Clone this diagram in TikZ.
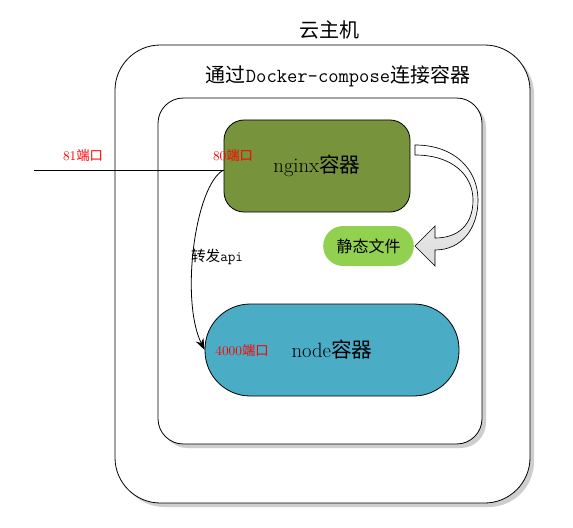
\documentclass[tikz,border=0pt]{standalone}
\usepackage{fontspec}
\newfontfamily\cjk{Noto Sans CJK SC}
\usetikzlibrary{positioning,arrows.meta,shadows,calc}
\definecolor{olivebox}{HTML}{77933C}
\definecolor{tealbox}{HTML}{4BACC6}
\definecolor{limebox}{HTML}{92D050}
\definecolor{portred}{HTML}{FF0000}
\newcommand{\zh}[1]{{\cjk #1}}
\tikzset{
  frame/.style={rectangle, rounded corners=#1, draw=black, fill=white,
                line width=0.6pt,
                drop shadow={shadow xshift=3pt, shadow yshift=-3pt,
                             opacity=0.35, fill=black!55}},
  ctr/.style={rectangle, rounded corners=#1, draw=black, line width=0.6pt,
              font=\fontsize{15.5}{18}\selectfont, inner sep=0pt},
  pill/.style={rectangle, rounded corners=#1, fill=limebox,
               font=\fontsize{12}{14}\selectfont, inner sep=0pt},
  port/.style={font=\fontsize{10}{12}\selectfont, text=portred, inner sep=0pt},
  titletext/.style={font=\fontsize{15}{18}\selectfont, inner sep=0pt},
  lnk/.style={line width=0.6pt, draw=black},
  fwd/.style={-{Stealth[length=3mm,width=2.2mm]}, line width=0.6pt, draw=black},
}

\begin{document}
\begin{tikzpicture}[x=0.75pt, y=-0.75pt]
  \useasboundingbox (0,0) rectangle (573,527);

  % host and compose frames
  \node[frame=34pt, minimum width=311.25pt, minimum height=343.5pt] (host) at (322.5,274) {};
  \node[frame=19pt, minimum width=243pt, minimum height=259.5pt] (compose) at (320,271) {};
  \node[titletext] (hostlbl) at (329,30) {\zh{云主机}};
  \node[titletext] (composelbl) at (338,76) {\zh{通过}\texttt{Docker-compose}\zh{连接容器}};

  % containers
  \node[ctr=15pt, fill=olivebox, minimum width=139.5pt, minimum height=69pt] (nginx) at (317,166) {nginx\zh{容器}};
  \node[ctr=34pt, fill=tealbox, minimum width=190.5pt, minimum height=69pt] (node) at (332,350) {node\zh{容器}};
  \node[pill=15pt, minimum width=68pt, minimum height=30pt] (static) at (368.5,246) {\zh{静态文件}};

  % port labels
  \node[port] (p81) at (83,155) {81\zh{端口}};
  \node[port] (p80) at (233,155) {80\zh{端口}};
  \node[port] (p4000) at (242,350) {4000\zh{端口}};
  \node[font=\fontsize{11}{13}\selectfont, inner sep=0pt] (api) at (217,257) {\zh{转发}\texttt{api}};

  % connectors
  \coordinate (ext) at (34,170);
  \draw[lnk] (ext) -- (ext -| nginx.west);
  \draw[fwd] (ext -| nginx.west) .. controls (195,185) and (180,300) .. (node.west);

  % curved block arrow to static files
  \draw[line width=0.5pt, top color=white, bottom color=black!14]
    (415,145) .. controls (455,145) and (478,170) .. (478,200)
    .. controls (478,228) and (462,250) .. (435,250)
    -- (435,266) -- (415,246) -- (435,226) -- (435,238)
    .. controls (458,238) and (473,225) .. (473,200)
    .. controls (473,175) and (452,155) .. (415,155) -- cycle;
\end{tikzpicture}
\end{document}
